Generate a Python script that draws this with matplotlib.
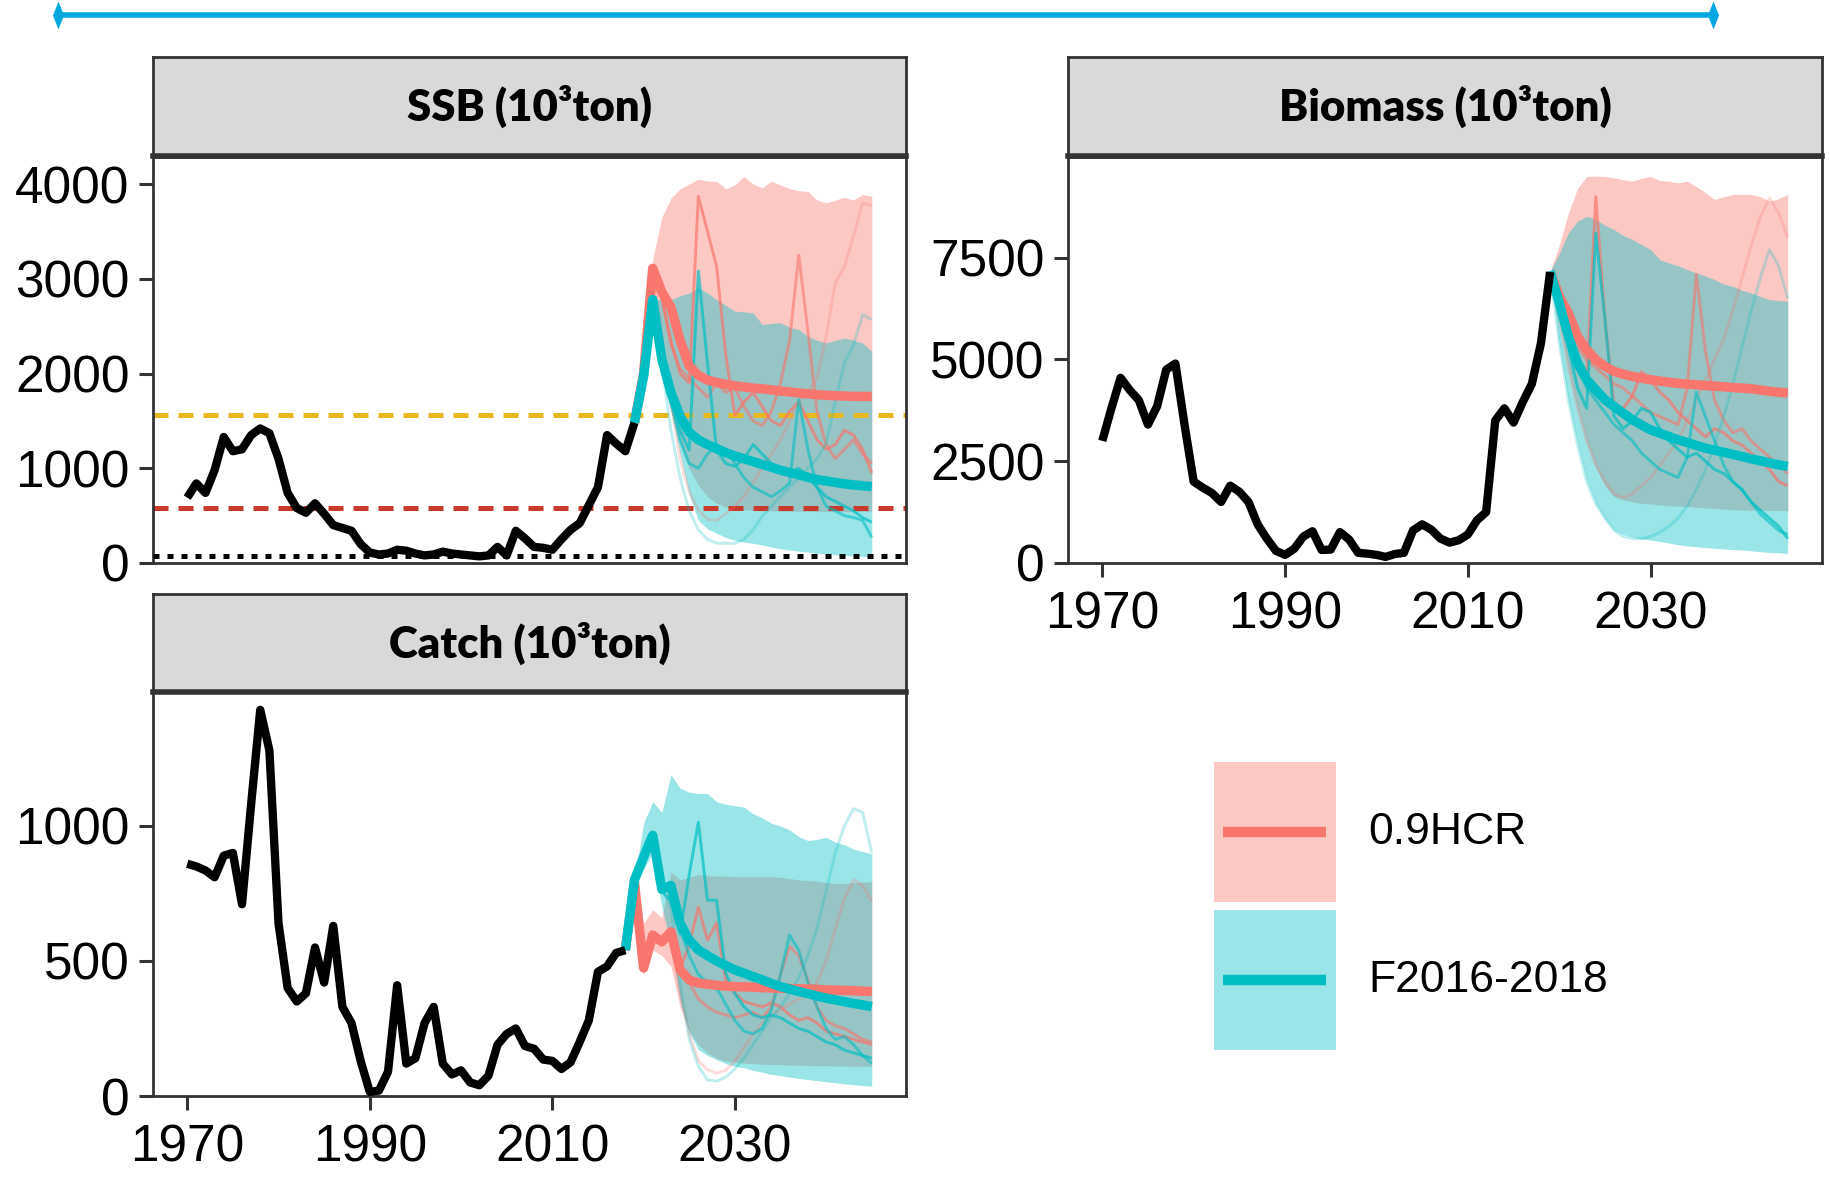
import numpy as np
import matplotlib
matplotlib.use("Agg")
import matplotlib.pyplot as plt
from matplotlib import font_manager
from matplotlib.path import Path
from matplotlib.patches import Rectangle

W, H, DPI = 1831, 1177, 100

# ---- historical estimates ----
hist_years = list(range(1970, 2020))          # SSB and biomass
catch_hist_years = list(range(1970, 2019))    # catch

ssb_hist = [690, 840, 740, 980, 1330, 1180, 1200, 1350, 1420, 1370,
            1100, 740, 580, 530, 630, 520, 400, 370, 340, 200,
            110, 90, 100, 140, 130, 100, 80, 90, 120, 100,
            90, 80, 70, 80, 170, 80, 340, 260, 170, 160,
            140, 250, 350, 420, 610, 800, 1350, 1260, 1180, 1480]
biomass_hist = [3000, 3800, 4550, 4250, 4000, 3400, 3850, 4750, 4900, 3400,
                2000, 1850, 1720, 1500, 1900, 1750, 1500, 950, 600, 300,
                200, 350, 650, 780, 320, 330, 760, 580, 250, 230,
                200, 150, 220, 250, 800, 950, 820, 600, 500, 560,
                700, 1050, 1250, 3500, 3800, 3450, 3950, 4400, 5400, 7150]
catch_hist = [860, 850, 835, 810, 890, 900, 710, 1080, 1430, 1280,
              640, 400, 350, 380, 550, 420, 630, 330, 270, 130,
              15, 20, 90, 410, 120, 140, 270, 330, 120, 80,
              95, 50, 40, 75, 190, 230, 250, 185, 175, 135,
              130, 100, 125, 200, 280, 460, 480, 530, 540]

# ---- projections ----
proj_years = list(range(2019, 2046))
catch_proj_years = list(range(2018, 2046))
scenarios = ["0.9HCR", "F2016-2018"]
sb_target, sb_limit, sb_ban = 1560, 580, 70

ssb_med = {
    "0.9HCR": [1480, 2000, 3110, 2860, 2700, 2350, 2080, 1980, 1930, 1905,
               1885, 1870, 1858, 1846, 1838, 1828, 1815, 1805, 1795, 1785,
               1776, 1770, 1765, 1762, 1758, 1758, 1758],
    "F2016-2018": [1480, 1970, 2780, 2150, 1800, 1550, 1380, 1300, 1250, 1205,
                   1165, 1130, 1100, 1071, 1040, 1010, 980, 955, 930, 905,
                   880, 865, 850, 835, 824, 815, 807],
}
ssb_lo = {
    "0.9HCR": [1480, 1950, 2500, 2000, 1600, 1250, 1000, 820, 700, 630,
               590, 570, 560, 555, 550, 550, 548, 546, 545, 545,
               544, 543, 543, 542, 542, 542, 542],
    "F2016-2018": [1480, 1960, 2500, 1950, 1600, 1150, 720, 450, 360, 314,
                   270, 240, 220, 208, 190, 170, 150, 137, 125, 115,
                   102, 95, 88, 82, 76, 71, 67],
}
ssb_hi = {
    "0.9HCR": [1480, 2100, 3200, 3650, 3850, 3950, 4000, 4050, 4030, 4030,
               3950, 3990, 4080, 4000, 3960, 4030, 3990, 3950, 3930, 3920,
               3830, 3800, 3830, 3860, 3830, 3890, 3870],
    "F2016-2018": [1480, 1980, 2790, 2780, 2780, 2820, 2850, 2904, 2850, 2780,
                   2720, 2657, 2650, 2640, 2516, 2530, 2534, 2490, 2463, 2392,
                   2350, 2322, 2350, 2375, 2350, 2322, 2234],
}
ssb_worms = {
    "0.9HCR": [
        [1480, 2000, 3110, 2800, 2350, 2000, 1900, 3870, 3500, 3130,
         2200, 1560, 1700, 1800, 1650, 1500, 1450, 1600, 1700, 1500,
         1300, 1200, 1250, 1400, 1350, 1200, 950],
        [1480, 2000, 3100, 2800, 2300, 2050, 1950, 1850, 1750, 1900,
         1800, 1850, 1650, 1500, 1450, 1600, 1900, 2350, 3250, 2450,
         1600, 1250, 1100, 1200, 1300, 1150, 1050],
        [1480, 2000, 3100, 2400, 1700, 1100, 750, 560, 460, 450,
         520, 600, 700, 850, 1000, 1150, 1300, 1500, 1700, 1800,
         1950, 2390, 2950, 3130, 3450, 3800, 3770],
    ],
    "F2016-2018": [
        [1480, 1970, 2780, 2250, 1800, 1400, 1190, 3080, 2110, 1190,
         1050, 1020, 1100, 1250, 1150, 1050, 1000, 950, 1000, 900,
         800, 700, 650, 600, 550, 480, 430],
        [1480, 1970, 2780, 2200, 1700, 1300, 1050, 1000, 1150, 1250,
         1200, 1050, 900, 800, 750, 700, 760, 842, 1723, 1200,
         800, 600, 550, 500, 480, 450, 270],
        [1480, 1970, 2780, 2100, 1400, 900, 550, 350, 250, 210,
         208, 208, 250, 350, 494, 600, 700, 800, 900, 1000,
         1100, 1264, 1700, 2111, 2300, 2621, 2568],
    ],
}

bio_med = {
    "0.9HCR": [7167, 6552, 6142, 5568, 5240, 4994, 4830, 4707, 4640, 4584,
               4540, 4502, 4470, 4440, 4415, 4395, 4379, 4360, 4345, 4330,
               4310, 4297, 4280, 4250, 4220, 4195, 4174],
    "F2016-2018": [7167, 6388, 5568, 4912, 4502, 4256, 4010, 3846, 3680, 3518,
                   3390, 3272, 3190, 3110, 3026, 2960, 2890, 2821, 2770, 2720,
                   2670, 2616, 2560, 2510, 2460, 2410, 2370],
}
bio_lo = {
    "0.9HCR": [7167, 6000, 4800, 3800, 3000, 2370, 1900, 1632, 1550, 1500,
               1468, 1450, 1430, 1410, 1395, 1386, 1370, 1355, 1340, 1325,
               1310, 1304, 1300, 1296, 1292, 1290, 1288],
    "F2016-2018": [7167, 5400, 4000, 2944, 2042, 1468, 1100, 812, 700, 640,
                   590, 566, 530, 490, 450, 420, 402, 380, 360, 345,
                   330, 320, 300, 280, 260, 250, 238],
}
bio_hi = {
    "0.9HCR": [7167, 7800, 8600, 9200, 9500, 9503, 9500, 9462, 9420, 9380,
               9450, 9500, 9400, 9380, 9340, 9380, 9250, 9100, 8930, 9000,
               9053, 9053, 9053, 9000, 8889, 8950, 9053],
    "F2016-2018": [7167, 7600, 8110, 8400, 8520, 8438, 8300, 8192, 8050, 7946,
                   7823, 7700, 7454, 7372, 7300, 7208, 7126, 7050, 6962, 6850,
                   6798, 6700, 6634, 6550, 6470, 6450, 6429],
}
bio_worms = {
    "0.9HCR": [
        [7167, 6500, 5800, 5000, 4500, 9000, 6000, 3850, 3800, 4100,
         4700, 4500, 4200, 4000, 3700, 3500, 3300, 3100, 3300, 3200,
         3000, 2900, 2700, 2500, 2300, 2000, 1900],
        [7167, 6500, 5900, 5300, 5000, 4800, 4600, 4400, 4300, 4100,
         3900, 3700, 3600, 3500, 3400, 4300, 7100, 5200, 4000, 3500,
         3200, 3300, 3000, 2800, 2600, 2400, 2200],
        [7167, 6000, 4800, 3800, 3000, 2400, 2000, 1700, 1600, 1700,
         1900, 2100, 2400, 2700, 3000, 3500, 4000, 4500, 5000, 5500,
         6200, 7000, 7800, 8500, 8970, 8600, 8000],
    ],
    "F2016-2018": [
        [7167, 6300, 5300, 4300, 3800, 8110, 6000, 3600, 3300, 3500,
         3800, 3700, 3300, 3000, 2800, 2600, 2700, 2500, 2300, 2200,
         2000, 1800, 1500, 1300, 1100, 900, 600],
        [7167, 6300, 5500, 4800, 4300, 4000, 3700, 3400, 3200, 3000,
         2700, 2500, 2300, 2200, 2100, 2600, 4200, 3600, 3000, 2400,
         2000, 1800, 1500, 1200, 1000, 800, 700],
        [7167, 5400, 4000, 2900, 2000, 1450, 1100, 800, 650, 600,
         600, 650, 750, 900, 1100, 1400, 1800, 2300, 2900, 3600,
         4400, 5300, 6200, 7000, 7700, 7300, 6500],
    ],
}

catch_med = {
    "0.9HCR": [540, 790, 474, 596, 571, 608, 467, 430, 418, 414,
               410, 407, 405, 404, 403, 401, 400, 399, 398, 397,
               396, 395, 393, 392, 391, 390, 388, 387],
    "F2016-2018": [540, 800, 885, 965, 765, 780, 640, 577, 541, 520,
                   500, 483, 467, 455, 442, 430, 417, 405, 396, 387,
                   379, 370, 362, 356, 349, 343, 337, 331],
}
catch_lo = {
    "0.9HCR": [540, 780, 450, 540, 520, 480, 330, 240, 190, 160,
               140, 130, 125, 122, 120, 118, 117, 116, 115, 114,
               113, 112, 112, 111, 111, 110, 110, 110],
    "F2016-2018": [540, 790, 840, 900, 700, 560, 356, 234, 172, 150,
                   135, 120, 110, 105, 95, 88, 80, 76, 70, 65,
                   61, 57, 53, 49, 45, 42, 39, 36],
}
catch_hi = {
    "0.9HCR": [540, 800, 640, 690, 660, 830, 800, 810, 820, 815,
               815, 814, 812, 812, 812, 812, 812, 810, 805, 800,
               798, 795, 790, 787, 787, 790, 792, 793],
    "F2016-2018": [540, 800, 1010, 1090, 1050, 1190, 1140, 1125, 1120, 1120,
                   1090, 1080, 1075, 1070, 1045, 1030, 1010, 1000, 985, 960,
                   946, 950, 958, 940, 930, 915, 905, 897],
}
catch_worms = {
    "0.9HCR": [
        [540, 790, 480, 600, 560, 600, 470, 560, 700, 577,
         640, 430, 380, 350, 340, 330, 345, 330, 300, 280,
         290, 270, 240, 230, 220, 210, 200, 190],
        [540, 790, 470, 590, 570, 610, 460, 420, 360, 330,
         310, 300, 290, 300, 310, 290, 330, 450, 553, 520,
         430, 330, 280, 260, 250, 230, 210, 200],
        [540, 790, 480, 590, 570, 600, 380, 230, 130, 98,
         85, 95, 130, 180, 230, 270, 300, 320, 340, 360,
         380, 420, 500, 620, 730, 800, 780, 720],
    ],
    "F2016-2018": [
        [540, 800, 890, 960, 760, 720, 600, 820, 1014, 725,
         725, 455, 380, 330, 300, 290, 300, 290, 270, 250,
         240, 220, 200, 190, 170, 160, 150, 140],
        [540, 800, 880, 960, 770, 760, 620, 520, 450, 420,
         400, 340, 280, 240, 230, 250, 320, 450, 596, 540,
         420, 330, 250, 210, 220, 190, 150, 120],
        [540, 800, 880, 960, 770, 700, 420, 210, 110, 60,
         55, 70, 100, 140, 190, 240, 290, 330, 380, 440,
         520, 620, 760, 900, 1000, 1064, 1050, 900],
    ],
}

colors = {"0.9HCR": "#F8766D", "F2016-2018": "#00BFC4"}
worm_alpha = [0.7, 0.6, 0.25]
x_ticks = [1970, 1990, 2010, 2030]


def pick_font(names):
    for name in names:
        try:
            font_manager.findfont(name, fallback_to_default=False)
            return name
        except ValueError:
            continue
    return "DejaVu Sans"


tick_font = pick_font(["Liberation Sans Narrow", "Liberation Sans"])
text_font = pick_font(["Liberation Sans", "Arimo"])
strip_font = pick_font(["Lato", "Open Sans"])
tick_size = 40 if tick_font == "Liberation Sans Narrow" else 37

plt.rcParams["font.family"] = [tick_font, "DejaVu Sans"]
plt.rcParams["lines.solid_capstyle"] = "butt"
edge = "#333333"


def fig_rect(x0, y0, x1, y1):
    return [x0 / W, 1 - y1 / H, (x1 - x0) / W, (y1 - y0) / H]


def add_strip(fig, box, label):
    sax = fig.add_axes(fig_rect(*box))
    sax.set_facecolor("#D9D9D9")
    sax.set_xticks([])
    sax.set_yticks([])
    for side, sp in sax.spines.items():
        sp.set_color(edge)
        sp.set_linewidth(4.0 if side == "bottom" else 2.0)
    sax.text(0.5, 0.5, label, transform=sax.transAxes, ha="center", va="center",
             fontsize=31.5, fontweight="heavy", family=[strip_font, "DejaVu Sans"])


def draw_panel(ax, years, hyears, hist, med, lo, hi, worms, ylim, yticks, show_x):
    for s in scenarios:
        ax.fill_between(years, lo[s], hi[s], color=colors[s], alpha=0.4, lw=0, zorder=1)
    for s in scenarios:
        for w, a in zip(worms[s], worm_alpha):
            ax.plot(years, w, color=colors[s], lw=2.1, alpha=a, zorder=3)
    for s in scenarios:
        ax.plot(years, med[s], color=colors[s], lw=6.8, zorder=4)
    ax.plot(hyears, hist, color="black", lw=6.0, zorder=5)
    ax.set_xlim(1966.25, 2048.75)
    ax.set_ylim(*ylim)
    ax.set_yticks(yticks)
    ax.set_xticks(x_ticks)
    for sp in ax.spines.values():
        sp.set_color(edge)
        sp.set_linewidth(2.0)
    ax.tick_params(axis="both", length=10, width=2.2, color=edge,
                   labelsize=tick_size, labelcolor="black")
    ax.tick_params(axis="y", pad=7)
    ax.tick_params(axis="x", pad=10)
    if not show_x:
        ax.tick_params(axis="x", bottom=False, labelbottom=False)


fig = plt.figure(figsize=(W / DPI, H / DPI), dpi=DPI)

ax_ssb = fig.add_axes(fig_rect(153, 157, 906, 563))
ax_bio = fig.add_axes(fig_rect(1068, 157, 1822, 563))
ax_catch = fig.add_axes(fig_rect(153, 692, 906, 1096))

draw_panel(ax_ssb, proj_years, hist_years, ssb_hist, ssb_med, ssb_lo, ssb_hi,
           ssb_worms, (0, 4285), [0, 1000, 2000, 3000, 4000], False)
ax_ssb.axhline(sb_target, color="#E8B820", lw=3.6, dashes=(3.0, 2.0), zorder=2.5)
ax_ssb.axhline(sb_limit, color="#C9392C", lw=3.6, dashes=(3.0, 2.0), zorder=2.5)
ax_ssb.axhline(sb_ban, color="black", lw=3.6, dashes=(1.2, 1.6), zorder=6)

draw_panel(ax_bio, proj_years, hist_years, biomass_hist, bio_med, bio_lo, bio_hi,
           bio_worms, (0, 9975), [0, 2500, 5000, 7500], True)
draw_panel(ax_catch, catch_proj_years, catch_hist_years, catch_hist, catch_med,
           catch_lo, catch_hi, catch_worms, (0, 1496), [0, 500, 1000], True)

add_strip(fig, (153, 57, 906, 156), "SSB (10³ton)")
add_strip(fig, (1068, 57, 1822, 156), "Biomass (10³ton)")
add_strip(fig, (153, 594, 906, 692), "Catch (10³ton)")

# overlay in pixel coordinates: top rule and legend key
ov = fig.add_axes([0, 0, 1, 1])
ov.set_xlim(0, W)
ov.set_ylim(H, 0)
ov.axis("off")
ov.patch.set_visible(False)

diamond = Path([(0, 1), (0.4, 0), (0, -1), (-0.4, 0), (0, 1)],
               [Path.MOVETO, Path.LINETO, Path.LINETO, Path.LINETO, Path.CLOSEPOLY])
ov.plot([58, 1713], [15, 15], color="#00A8E1", lw=4)
ov.plot([58, 1713], [15, 15], ls="none", marker=diamond, markersize=20,
        color="#00A8E1", markeredgewidth=0)

for i, s in enumerate(scenarios):
    top = 762 + i * 148
    ov.add_patch(Rectangle((1214, top), 122, 140, facecolor=colors[s], alpha=0.4, lw=0))
    ov.plot([1223, 1326], [top + 70, top + 70], color=colors[s], lw=7.5)
    ov.text(1368, top + 71, s, ha="left", va="center", fontsize=32,
            family=[text_font, "DejaVu Sans"])

fig.savefig("out.png", dpi=DPI)
